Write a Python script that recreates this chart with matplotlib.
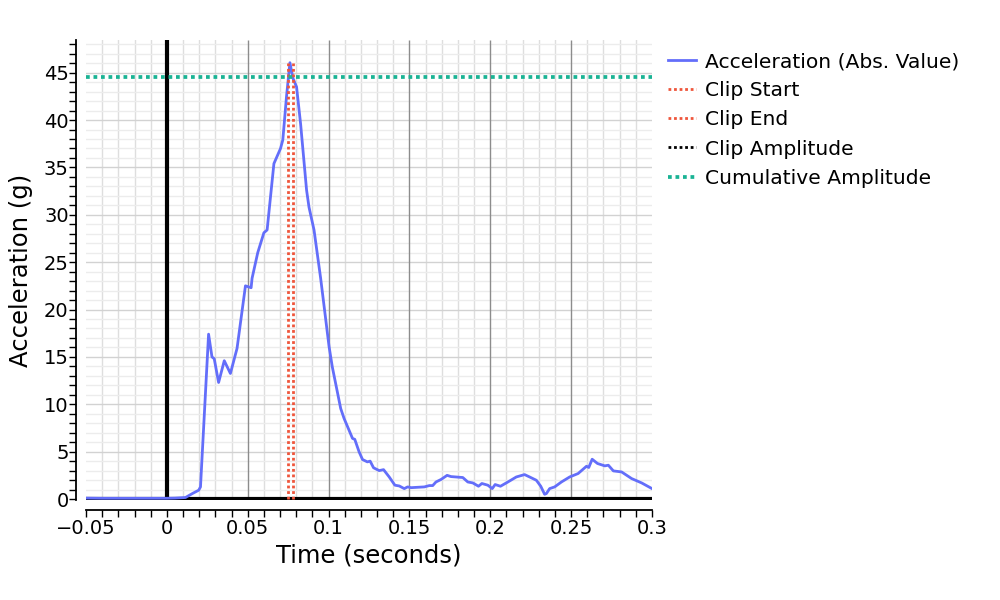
import matplotlib
matplotlib.use("Agg")
import matplotlib.pyplot as plt
from matplotlib.ticker import MultipleLocator, FuncFormatter

# ---- data ----
time_s = [-0.05, -0.04, -0.03, -0.02, -0.01, 0.0, 0.005, 0.0115, 0.016, 0.0197,
          0.0208, 0.0258, 0.0279, 0.0293, 0.032, 0.0355, 0.0393, 0.0434, 0.0486, 0.0521,
          0.0527, 0.0562, 0.060, 0.062, 0.0662, 0.0703, 0.0717, 0.074, 0.0761, 0.078,
          0.0802, 0.0827, 0.0864, 0.0879, 0.091, 0.0951, 0.1003, 0.1023, 0.1075, 0.1096,
          0.1148, 0.1162, 0.1189, 0.121, 0.124, 0.1257, 0.1278, 0.1313, 0.134, 0.1375,
          0.141, 0.1437, 0.1468, 0.1489, 0.151, 0.1592, 0.1623, 0.1644, 0.1664, 0.1695,
          0.1733, 0.1757, 0.183, 0.1861, 0.1892, 0.1927, 0.1948, 0.1985, 0.2012, 0.203,
          0.2063, 0.2109, 0.2161, 0.2212, 0.2243, 0.2285, 0.2312, 0.2336, 0.2347, 0.2367,
          0.2398, 0.244, 0.2491, 0.2543, 0.2595, 0.2609, 0.263, 0.2663, 0.2708, 0.273,
          0.2761, 0.2812, 0.2874, 0.2936, 0.3]
accel_g = [0.1, 0.08, 0.08, 0.08, 0.08, 0.08, 0.1, 0.16, 0.6, 0.93,
           1.28, 17.4, 15.0, 14.8, 12.3, 14.6, 13.25, 15.9, 22.5, 22.3,
           23.3, 26.0, 28.1, 28.4, 35.4, 37.0, 37.9, 42.5, 46.05, 44.4,
           43.5, 39.6, 32.6, 30.8, 28.4, 23.3, 16.1, 13.95, 9.55, 8.5,
           6.4, 6.3, 4.97, 4.17, 3.92, 4.0, 3.3, 3.0, 3.1, 2.33,
           1.46, 1.38, 1.1, 1.28, 1.2, 1.28, 1.42, 1.42, 1.8, 2.06,
           2.5, 2.37, 2.27, 1.8, 1.7, 1.35, 1.64, 1.46, 1.1, 1.53,
           1.35, 1.8, 2.33, 2.58, 2.33, 1.98, 1.35, 0.5, 0.58, 1.1,
           1.28, 1.8, 2.33, 2.69, 3.46, 3.33, 4.2, 3.75, 3.5, 3.57,
           2.97, 2.86, 2.16, 1.7, 1.1]
clip_start = 0.0748
clip_end = 0.0782
clip_amplitude = 0.0
clip_peak = 46.0
cumulative_amplitude = 44.5

x_range = [-0.05, 0.3]
y_range = [-0.1, 48.45]

# ---- figure ----
plt.rcParams['font.family'] = ['DejaVu Sans']
fig = plt.figure(figsize=(10, 6), dpi=100)
ax = fig.add_axes([0.086, 0.1667, 0.566, 0.7667])

ax.set_xlim(*x_range)
ax.set_ylim(*y_range)

ax.xaxis.set_major_locator(MultipleLocator(0.05))
ax.xaxis.set_minor_locator(MultipleLocator(0.01))
ax.yaxis.set_major_locator(MultipleLocator(5))
ax.yaxis.set_minor_locator(MultipleLocator(1))

# light grids (minor x and all y)
ax.grid(which='minor', axis='x', color='#dedede', linewidth=1, zorder=0)
ax.grid(which='minor', axis='y', color='#ececec', linewidth=1, zorder=0)
ax.grid(which='major', axis='y', color='#d2d2d2', linewidth=1, zorder=0)
ax.set_axisbelow(True)

# darker major vertical grid lines, drawn above the light grid
xt = [v for v in ax.get_xticks() if x_range[0] + 1e-9 < v < x_range[1] - 1e-9 and abs(v) > 1e-9]
ax.vlines(xt, y_range[0], y_range[1], colors='#8c8c8c', linewidth=1, zorder=1)

# zero lines
ax.axvline(0, color='black', linewidth=3, zorder=1.5)
ax.axhline(0, color='black', linewidth=3, zorder=1.5)

# traces
ax.plot(time_s, accel_g, color='#636EFA', linewidth=2, label='Acceleration (Abs. Value)', zorder=3)
ax.plot([clip_start, clip_start], [0, clip_peak], color='#EF553B', linewidth=2,
        linestyle=(0, (1, 1)), label='Clip Start', zorder=4)
ax.plot([clip_end, clip_end], [0, clip_peak], color='#EF553B', linewidth=2,
        linestyle=(0, (1, 1)), label='Clip End', zorder=4)
ax.plot([clip_start, clip_end], [clip_amplitude, clip_amplitude], color='black', linewidth=2,
        linestyle=(0, (1, 1)), label='Clip Amplitude', zorder=1.4)
ax.plot(x_range, [cumulative_amplitude, cumulative_amplitude], color='#1ab394', linewidth=2.7,
        linestyle=(0, (1, 1)), label='Cumulative Amplitude', zorder=4)

# spines
for s in ['top', 'right']:
    ax.spines[s].set_visible(False)
for s in ['left', 'bottom']:
    ax.spines[s].set_position(('outward', 7.5))
    ax.spines[s].set_linewidth(1.3)

def fmt_x(v, pos):
    if abs(v) < 1e-9:
        return '0'
    s = ('%.2f' % v).rstrip('0').rstrip('.')
    return s.replace('-', '\u2212')

ax.xaxis.set_major_formatter(FuncFormatter(fmt_x))
ax.tick_params(axis='both', which='both', direction='out', length=5, width=1, labelsize=14)
ax.tick_params(axis='x', which='both', pad=1)
ax.tick_params(axis='y', which='both', pad=0)

ax.set_xlabel('Time (seconds)', fontsize=17.5, labelpad=4)
ax.set_ylabel('Acceleration (g)', fontsize=17.5, labelpad=8)

leg = ax.legend(loc='upper left', bbox_to_anchor=(1.007, 1.0), frameon=False, fontsize=14.6,
                handlelength=1.35, handletextpad=0.45, labelspacing=0.5, borderaxespad=0.3,
                borderpad=0.3)

fig.savefig('out.png', dpi=100)
